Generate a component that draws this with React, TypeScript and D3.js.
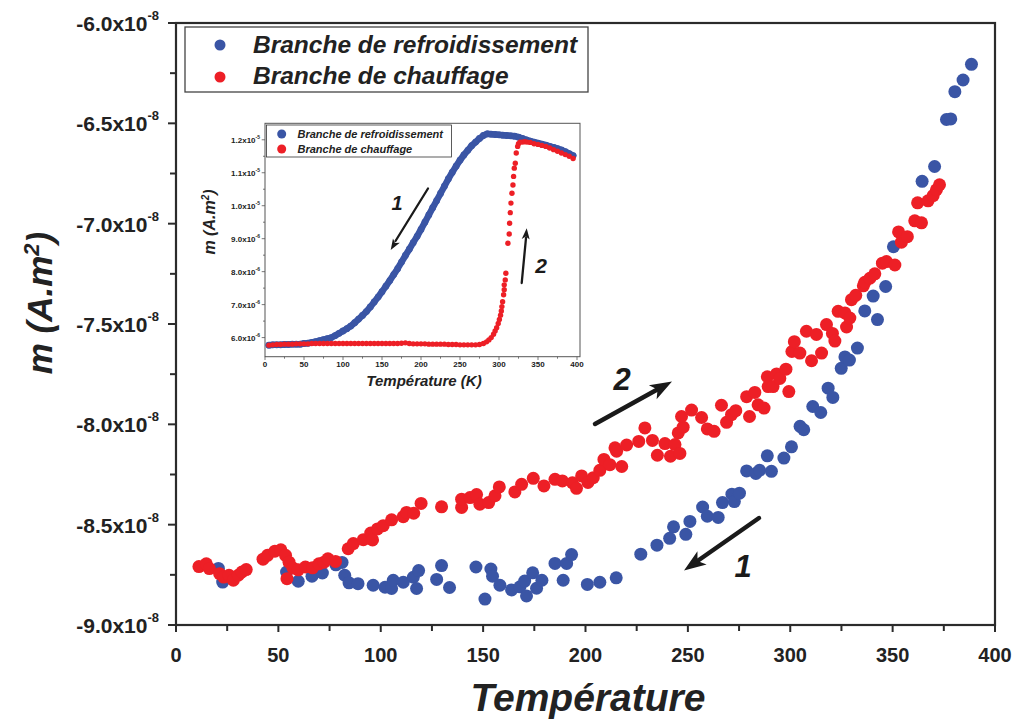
import React from 'react';
import * as d3 from 'd3';

// ---------- DATA ----------
// main chart: temperature (K), m in units of 1e-8 A.m²
const xTicksMain = [0, 50, 100, 150, 200, 250, 300, 350, 400];
const yTicksMain = [-6.0, -6.5, -7.0, -7.5, -8.0, -8.5, -9.0];
const yTickExponentMain = '-8';
const legendLabels = ['Branche de refroidissement', 'Branche de chauffage'];

const coolingMain: [number, number][] = [
  [20.7, -8.718], [22.8, -8.786], [54.0, -8.736], [59.7, -8.782], [66.4, -8.757], [71.5, -8.741],
  [78.1, -8.700], [81.1, -8.688], [82.4, -8.752], [84.5, -8.790], [88.9, -8.794], [96.3, -8.802],
  [102.1, -8.812], [105.3, -8.818], [106.1, -8.777], [111.0, -8.787], [115.9, -8.762], [118.5, -8.729],
  [117.5, -8.818], [127.3, -8.773], [129.7, -8.704], [133.6, -8.813], [146.5, -8.711], [150.9, -8.871],
  [153.8, -8.721], [154.6, -8.757], [158.2, -8.802], [163.9, -8.825], [168.0, -8.810], [170.3, -8.781],
  [171.2, -8.855], [174.2, -8.740], [176.1, -8.817], [178.7, -8.777], [185.1, -8.693], [189.1, -8.777],
  [190.8, -8.693], [193.2, -8.649], [200.9, -8.798], [207.0, -8.787], [215.0, -8.765], [227.0, -8.647],
  [234.9, -8.602], [241.1, -8.568], [243.0, -8.511], [249.0, -8.548], [251.0, -8.484], [257.2, -8.412],
  [259.5, -8.458], [264.8, -8.464], [266.9, -8.390], [271.5, -8.348], [272.7, -8.385], [275.2, -8.343],
  [278.7, -8.232], [283.2, -8.245], [285.0, -8.229], [288.8, -8.157], [290.8, -8.234], [296.9, -8.168],
  [300.6, -8.112], [304.8, -8.010], [306.6, -8.027], [311.0, -7.911], [314.9, -7.941], [318.5, -7.820],
  [320.8, -7.866], [324.9, -7.721], [326.7, -7.664], [328.9, -7.680], [332.8, -7.620], [336.4, -7.435],
  [340.5, -7.361], [342.6, -7.478], [346.6, -7.313], [350.4, -7.115], [364.4, -6.789], [370.5, -6.715],
  [376.3, -6.481], [378.4, -6.478], [380.4, -6.342], [384.4, -6.284], [388.5, -6.206],
];

const heatingMain: [number, number][] = [
  [11.2, -8.709], [14.8, -8.695], [16.3, -8.719], [21.3, -8.744], [23.3, -8.761], [25.9, -8.752],
  [28.0, -8.777], [30.4, -8.752], [32.2, -8.736], [34.3, -8.724], [42.5, -8.672], [44.7, -8.653],
  [48.3, -8.632], [51.2, -8.625], [53.5, -8.653], [55.2, -8.687], [54.2, -8.769], [57.1, -8.716],
  [59.7, -8.725], [63.2, -8.711], [66.7, -8.715], [69.8, -8.695], [72.3, -8.687], [74.2, -8.670],
  [77.9, -8.683], [84.1, -8.620], [86.6, -8.594], [91.5, -8.575], [95.1, -8.542], [96.0, -8.576],
  [98.4, -8.521], [101.2, -8.505], [105.3, -8.476], [111.0, -8.460], [112.6, -8.439], [116.1, -8.443],
  [119.7, -8.394], [129.7, -8.411], [139.5, -8.414], [139.5, -8.373], [143.6, -8.365], [146.8, -8.350],
  [148.4, -8.398], [152.7, -8.390], [155.8, -8.356], [157.9, -8.312], [165.5, -8.337], [168.8, -8.299],
  [174.5, -8.269], [179.7, -8.307], [185.1, -8.274], [188.7, -8.282], [193.6, -8.291], [195.6, -8.319],
  [198.1, -8.257], [201.2, -8.290], [203.8, -8.266], [207.0, -8.229], [209.0, -8.175], [211.9, -8.201],
  [214.4, -8.117], [215.2, -8.134], [217.7, -8.210], [220.1, -8.103], [226.0, -8.085], [229.0, -8.018],
  [232.7, -8.080], [235.1, -8.154], [238.8, -8.096], [241.5, -8.159], [243.7, -8.101], [246.1, -8.145],
  [245.3, -8.043], [247.7, -8.014], [246.9, -7.961], [251.8, -7.929], [256.7, -7.966], [259.5, -8.023],
  [262.8, -8.035], [266.4, -7.905], [268.9, -7.990], [271.3, -7.952], [273.4, -7.932], [278.7, -7.862],
  [280.1, -7.961], [282.7, -7.841], [284.3, -7.903], [287.2, -7.919], [288.8, -7.763], [289.2, -7.812],
  [291.6, -7.812], [293.3, -7.749], [294.9, -7.771], [297.9, -7.725], [299.3, -7.837], [300.8, -7.637],
  [302.0, -7.588], [304.7, -7.645], [307.9, -7.536], [310.4, -7.683], [312.8, -7.552], [315.3, -7.645],
  [317.7, -7.503], [320.6, -7.547], [321.8, -7.585], [323.4, -7.437], [326.7, -7.445], [327.5, -7.515],
  [329.1, -7.470], [329.9, -7.379], [332.0, -7.357], [335.7, -7.310], [336.4, -7.292], [338.9, -7.272],
  [341.3, -7.250], [345.0, -7.197], [347.0, -7.189], [351.1, -7.206], [352.9, -7.041], [354.3, -7.092],
  [357.2, -7.065], [360.8, -6.986], [364.1, -6.996], [362.2, -6.896], [367.3, -6.886], [369.8, -6.860],
  [371.4, -6.831], [372.9, -6.806],
];

// inset: temperature (K), m in units of 1e-6 A.m²
const insetXTicks = [0, 50, 100, 150, 200, 250, 300, 350, 400];
const insetYTicks = [6, 7, 8, 9, 10, 11, 12];
const insetYTickLabels: [string, string][] = [
  ['6.0', '-6'], ['7.0', '-6'], ['8.0', '-6'], ['9.0', '-6'], ['1.0', '-5'], ['1.1', '-5'], ['1.2', '-5'],
];

const coolingInset: [number, number][] = [
  [5, 5.77], [10, 5.78], [15, 5.78], [20, 5.78], [25, 5.79], [30, 5.79], [35, 5.80], [40, 5.80],
  [45, 5.80], [50, 5.82], [55, 5.83], [60, 5.85], [65, 5.88], [70, 5.91], [75, 5.94], [80, 5.97],
  [85, 6.00], [90, 6.06], [95, 6.13], [100, 6.20], [105, 6.27], [110, 6.35], [115, 6.45], [120, 6.56],
  [125, 6.67], [130, 6.79], [135, 6.93], [140, 7.08], [145, 7.23], [150, 7.39], [155, 7.56], [160, 7.73],
  [165, 7.91], [170, 8.09], [175, 8.29], [180, 8.49], [185, 8.68], [190, 8.88], [195, 9.07], [200, 9.28],
  [205, 9.50], [210, 9.72], [215, 9.94], [220, 10.15], [225, 10.37], [230, 10.59], [235, 10.81], [240, 11.01],
  [245, 11.20], [250, 11.38], [255, 11.54], [260, 11.68], [265, 11.82], [270, 11.93], [275, 12.04], [280, 12.13],
  [285, 12.18], [290, 12.17], [295, 12.16], [300, 12.15], [305, 12.14], [310, 12.13], [315, 12.12], [320, 12.11],
  [325, 12.08], [330, 12.04], [335, 12.00], [340, 11.96], [345, 11.93], [350, 11.90], [355, 11.87], [360, 11.84],
  [365, 11.80], [370, 11.77], [375, 11.73], [380, 11.69], [385, 11.64], [390, 11.58], [395, 11.52],
];

const heatingInset: [number, number][] = [
  [5, 5.77], [10, 5.78], [15, 5.79], [20, 5.79], [25, 5.80], [30, 5.80], [35, 5.80], [40, 5.81],
  [45, 5.81], [50, 5.81], [55, 5.81], [60, 5.82], [65, 5.82], [70, 5.82], [75, 5.82], [80, 5.82],
  [85, 5.82], [90, 5.82], [95, 5.82], [100, 5.82], [105, 5.82], [110, 5.82], [115, 5.82], [120, 5.82],
  [125, 5.82], [130, 5.82], [135, 5.82], [140, 5.82], [145, 5.82], [150, 5.82], [155, 5.82], [160, 5.82],
  [165, 5.82], [170, 5.82], [175, 5.83], [180, 5.84], [185, 5.82], [190, 5.81], [195, 5.81], [200, 5.81],
  [205, 5.81], [210, 5.80], [215, 5.80], [220, 5.80], [225, 5.80], [230, 5.80], [235, 5.79], [240, 5.79],
  [245, 5.79], [250, 5.78], [255, 5.78], [260, 5.78], [265, 5.78], [270, 5.78], [275, 5.79], [280, 5.82],
  [284, 5.87], [287, 5.93], [290, 6.00], [293, 6.10], [295, 6.20], [297, 6.30], [299, 6.43], [300.5, 6.55],
  [302, 6.68], [303, 6.81], [303.7, 6.94], [304.6, 7.09], [305.9, 7.30], [306.7, 7.45], [306.7, 7.60],
  [308.0, 7.75], [308.8, 7.95], [311.4, 8.86], [313.1, 9.14], [313.6, 9.47], [314.4, 9.79], [315.3, 10.08],
  [316.6, 10.38], [317.9, 10.63], [318.7, 10.89], [319.6, 11.14], [320.9, 11.29], [322.1, 11.60], [323.9, 11.80],
  [325, 11.88], [327, 11.93], [330, 11.93], [333, 11.94], [336, 11.93], [340, 11.92], [345, 11.88],
  [350, 11.86], [355, 11.83], [360, 11.80], [365, 11.75], [370, 11.70], [375, 11.65], [380, 11.60],
  [385, 11.55], [390, 11.50], [395, 11.43],
];

// ---------- STYLE ----------
const BLUE = '#3a55a5';
const RED = '#ed1f26';
const AXIS = '#2b2b2b';
const FONT = '"Liberation Sans", Arial, Helvetica, sans-serif';

export default function App() {
  // main scales
  const x = d3.scaleLinear().domain([0, 400]).range([176, 995]);
  const y = d3.scaleLinear().domain([-9, -6]).range([625, 23]);
  // inset scales
  const xi = d3.scaleLinear().domain([0, 400]).range([265, 577]);
  const yi = d3.scaleLinear().domain([5.42, 12.5]).range([356.7, 123.3]);

  const xMinor = d3.range(0, 401, 25);
  const yMinor = d3.range(-9, -5.99, 0.25);
  const xiMinor = d3.range(0, 401, 25);
  const yiMinor = d3.range(6, 12.01, 0.5);

  const insetLine = d3.line<[number, number]>().x(d => xi(d[0])).y(d => yi(d[1]));

  const arrowHead = (x1: number, y1: number, x2: number, y2: number, len: number, w: number) => {
    const a = Math.atan2(y2 - y1, x2 - x1);
    const bx = x2 - len * Math.cos(a), by = y2 - len * Math.sin(a);
    const px = -Math.sin(a) * w, py = Math.cos(a) * w;
    return `M${x2},${y2} L${bx + px},${by + py} L${bx + len * 0.25 * Math.cos(a)},${by + len * 0.25 * Math.sin(a)} L${bx - px},${by - py} Z`;
  };

  return (
    <svg width={1016} height={724} style={{ position: 'absolute', left: 0, top: 0, background: '#fff' }}
      fontFamily={FONT}>
      <rect x={0} y={0} width={1016} height={724} fill="#fff" />

      {/* main frame */}
      <rect x={176} y={23} width={819} height={602} fill="none" stroke={AXIS} strokeWidth={2.2} />

      {/* x ticks */}
      {xMinor.map(t => (
        <line key={'xt' + t} x1={x(t)} x2={x(t)} y1={625} y2={t % 50 === 0 ? 632 : 631} stroke={AXIS} strokeWidth={2} />
      ))}
      {xTicksMain.map(t => (
        <text key={'xl' + t} x={x(t)} y={662} textAnchor="middle" fontSize={20} fontWeight="bold" fill="#222">{t}</text>
      ))}
      {/* y ticks */}
      {yMinor.map(t => (
        <line key={'yt' + t} x1={176} x2={Math.abs(t * 2 - Math.round(t * 2)) < 1e-6 ? 168 : 170} y1={y(t)} y2={y(t)} stroke={AXIS} strokeWidth={2} />
      ))}
      {yTicksMain.map(t => (
        <text key={'yl' + t} x={159} y={y(t) + 8} textAnchor="end" fontSize={21} fontWeight="bold" fill="#222">
          {t.toFixed(1)}x10<tspan fontSize={13} dy={-11}>{yTickExponentMain}</tspan>
        </text>
      ))}

      {/* axis titles */}
      <text x={588} y={711} textAnchor="middle" fontSize={39} fontWeight="bold" fontStyle="italic" fill="#222">Température</text>
      <text transform="translate(52,303) rotate(-90)" textAnchor="middle" fontSize={35} fontWeight="bold" fontStyle="italic" fill="#222">
        m (A.m<tspan fontSize={22} dy={-13}>2</tspan><tspan dy={13}>)</tspan>
      </text>

      {/* main data */}
      {coolingMain.map((d, i) => (
        <circle key={'c' + i} cx={x(d[0])} cy={y(d[1])} r={6.5} fill={BLUE} />
      ))}
      {heatingMain.map((d, i) => (
        <circle key={'h' + i} cx={x(d[0])} cy={y(d[1])} r={6.5} fill={RED} />
      ))}

      {/* main legend */}
      <rect x={185} y={27} width={403} height={65} fill="#fff" stroke="#444" strokeWidth={1.3} />
      <circle cx={220} cy={45} r={5.5} fill={BLUE} />
      <circle cx={220} cy={77} r={5.5} fill={RED} />
      <text x={253} y={53} fontSize={24.5} fontWeight="bold" fontStyle="italic" fill="#222">{legendLabels[0]}</text>
      <text x={253} y={84} fontSize={24.5} fontWeight="bold" fontStyle="italic" fill="#222">{legendLabels[1]}</text>

      {/* main arrows */}
      <line x1={595} y1={424} x2={660} y2={388} stroke="#1a1a1a" strokeWidth={4.5} strokeLinecap="round" />
      <path d={arrowHead(595, 424, 672, 381.5, 22, 8)} fill="#1a1a1a" />
      <text x={622} y={390} textAnchor="middle" fontSize={31} fontWeight="bold" fontStyle="italic" fill="#1a1a1a">2</text>
      <line x1={759} y1={518} x2={696} y2={562} stroke="#1a1a1a" strokeWidth={4.5} strokeLinecap="round" />
      <path d={arrowHead(759, 518, 684, 570.5, 22, 8)} fill="#1a1a1a" />
      <text x={743} y={577} textAnchor="middle" fontSize={31} fontWeight="bold" fontStyle="italic" fill="#1a1a1a">1</text>

      {/* ---------- INSET ---------- */}
      <rect x={265} y={123.3} width={315} height={233.4} fill="#fff" stroke="#555" strokeWidth={1} />
      {xiMinor.map(t => (
        <line key={'ixt' + t} x1={xi(t)} x2={xi(t)} y1={356.7} y2={t % 50 === 0 ? 360 : 358.7} stroke="#555" strokeWidth={0.8} />
      ))}
      {insetXTicks.map(t => (
        <text key={'ixl' + t} x={xi(t)} y={367} textAnchor="middle" fontSize={8} fontWeight="bold" fill="#222">{t}</text>
      ))}
      {yiMinor.map(t => (
        <line key={'iyt' + t} x1={265} x2={Number.isInteger(t) ? 261.7 : 263} y1={yi(t)} y2={yi(t)} stroke="#555" strokeWidth={0.8} />
      ))}
      {insetYTicks.map((t, i) => (
        <text key={'iyl' + t} x={260} y={yi(t) + 3} textAnchor="end" fontSize={8} fontWeight="bold" fill="#222">
          {insetYTickLabels[i][0]}x10<tspan fontSize={5} dy={-4}>{insetYTickLabels[i][1]}</tspan>
        </text>
      ))}
      <text x={424} y={386} textAnchor="middle" fontSize={15} fontWeight="bold" fontStyle="italic" fill="#222">Température (K)</text>
      <text transform="translate(215,222) rotate(-90)" textAnchor="middle" fontSize={16} fontWeight="bold" fontStyle="italic" fill="#222">
        m (A.m<tspan fontSize={10} dy={-6}>2</tspan><tspan dy={6}>)</tspan>
      </text>

      {/* inset data */}
      <path d={insetLine(coolingInset) || ''} fill="none" stroke={BLUE} strokeWidth={6.5} strokeLinejoin="round" strokeLinecap="round" />
      {coolingInset.map((d, i) => (
        <circle key={'ci' + i} cx={xi(d[0])} cy={yi(d[1])} r={3.4} fill={BLUE} />
      ))}
      {heatingInset.map((d, i) => (
        <circle key={'hi' + i} cx={xi(d[0])} cy={yi(d[1])} r={2.7} fill={RED} />
      ))}

      {/* inset legend */}
      <rect x={266.5} y={125} width={185} height={32} fill="#fff" stroke="#333" strokeWidth={0.8} />
      <circle cx={281.7} cy={134} r={4.5} fill={BLUE} />
      <circle cx={281.7} cy={149} r={4.5} fill={RED} />
      <text x={297.5} y={137.5} fontSize={11} fontWeight="bold" fontStyle="italic" fill="#222">{legendLabels[0]}</text>
      <text x={297.5} y={152.5} fontSize={11} fontWeight="bold" fontStyle="italic" fill="#222">{legendLabels[1]}</text>

      {/* inset arrows */}
      <line x1={428} y1={188.5} x2={395.5} y2={241} stroke="#1a1a1a" strokeWidth={2.3} strokeLinecap="round" />
      <path d={arrowHead(428, 188.5, 390.7, 250, 11, 4)} fill="#1a1a1a" />
      <text x={397} y={210} textAnchor="middle" fontSize={20} fontWeight="bold" fontStyle="italic" fill="#1a1a1a">1</text>
      <line x1={521.7} y1={283} x2={526} y2={238} stroke="#1a1a1a" strokeWidth={2.3} strokeLinecap="round" />
      <path d={arrowHead(521.7, 283, 526.7, 228.3, 11, 4)} fill="#1a1a1a" />
      <text x={541} y={273} textAnchor="middle" fontSize={21} fontWeight="bold" fontStyle="italic" fill="#1a1a1a">2</text>
    </svg>
  );
}
